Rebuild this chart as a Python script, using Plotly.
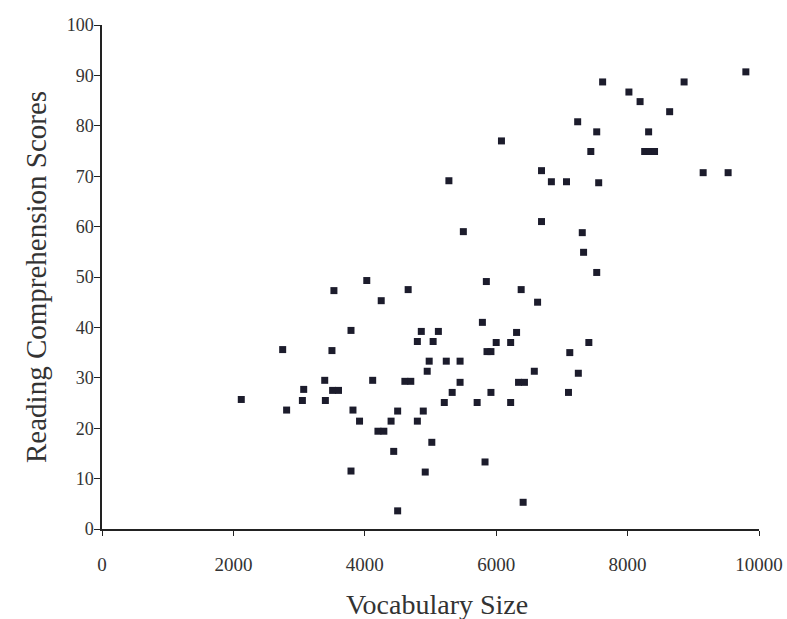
import plotly.graph_objects as go

vocab_size = [2120, 2750, 2810, 3050, 3070, 3390, 3400, 3500, 3530, 3510, 3600,
              3790, 3790, 3820, 3920, 4030, 4120, 4250, 4200, 4290, 4400, 4440,
              4500, 4500, 4610, 4700, 4660, 4800, 4800, 4860, 4890, 4920, 4950,
              4980, 5020, 5040, 5120, 5210, 5240, 5280, 5330, 5450, 5450, 5500,
              5710, 5790, 5830, 5850, 5860, 5920, 5920, 6000, 6080, 6220, 6220,
              6310, 6340, 6430, 6380, 6410, 6580, 6630, 6690, 6690, 6840, 7070,
              7100, 7120, 7240, 7250, 7310, 7330, 7410, 7440, 7530, 7530, 7560,
              7620, 8020, 8190, 8260, 8340, 8410, 8320, 8640, 8860, 9150, 9530,
              9800]
reading_scores = [25.7, 35.6, 23.6, 25.5, 27.7, 29.5, 25.5, 35.4, 47.3, 27.5, 27.5,
                  39.4, 11.5, 23.6, 21.4, 49.3, 29.5, 45.3, 19.4, 19.4, 21.4, 15.4,
                  23.4, 3.6, 29.3, 29.3, 47.5, 37.2, 21.4, 39.2, 23.4, 11.3, 31.3,
                  33.3, 17.2, 37.2, 39.2, 25.1, 33.3, 69.1, 27.1, 33.3, 29.1, 59.0,
                  25.1, 41.0, 13.3, 49.1, 35.2, 35.2, 27.1, 37.0, 77.0, 37.0, 25.1,
                  39.0, 29.1, 29.1, 47.5, 5.3, 31.3, 45.0, 71.1, 61.0, 68.9, 68.9,
                  27.1, 35.0, 80.8, 30.9, 58.8, 54.9, 37.0, 74.9, 78.8, 50.9, 68.7,
                  88.7, 86.7, 84.8, 74.9, 74.9, 74.9, 78.8, 82.8, 88.7, 70.7, 70.7,
                  90.7]

x_ticks = [0, 2000, 4000, 6000, 8000, 10000]
y_ticks = [0, 10, 20, 30, 40, 50, 60, 70, 80, 90, 100]
x_title = "Vocabulary Size"
y_title = "Reading Comprehension Scores"

fig = go.Figure(go.Scatter(
    x=vocab_size, y=reading_scores, mode="markers",
    marker=dict(symbol="square", size=7, color="#1c1c2c",
                line=dict(width=0)),
    showlegend=False,
))

W, H = 787, 619
L, R, T, B = 102, 28, 25, 90
pw, ph = W - L - R, H - T - B

font_family = "Liberation Serif, Times New Roman, serif"
fig.update_layout(
    width=W, height=H,
    margin=dict(l=L, r=R, t=T, b=B, autoexpand=False),
    paper_bgcolor="white", plot_bgcolor="white",
    font=dict(family=font_family, color="#222222"),
    annotations=[
        dict(text=x_title, xref="paper", yref="paper",
             x=(437 - L) / pw, y=-(604 - (H - B)) / ph,
             xanchor="center", yanchor="middle", showarrow=False,
             font=dict(size=28, family=font_family, color="#333333")),
        dict(text=y_title, xref="paper", yref="paper",
             x=-(L - 36) / pw, y=(H - B - 277) / ph, textangle=-90,
             xanchor="center", yanchor="middle", showarrow=False,
             font=dict(size=29, family=font_family, color="#333333")),
    ],
)
fig.update_xaxes(
    range=[0, 10000], tickvals=x_ticks, ticktext=[str(v) for v in x_ticks],
    automargin=False,
    showgrid=False, zeroline=False, showline=True, linecolor="#222222",
    linewidth=1.5, ticks="outside", ticklen=5, tickcolor="#222222",
    tickfont=dict(size=19, family=font_family, color="#333333"),
    ticklabelstandoff=12,
)
fig.update_yaxes(
    range=[0, 100], tickvals=y_ticks, ticktext=[str(v) for v in y_ticks],
    automargin=False,
    showgrid=False, zeroline=False, showline=True, linecolor="#222222",
    linewidth=1.5, ticks="outside", ticklen=6, tickcolor="#222222",
    tickfont=dict(size=18, family=font_family, color="#333333"),
    ticklabelstandoff=-3,
)

fig.write_html("out.html", config={"displayModeBar": False},
               post_script="document.body.style.margin='0px';")
